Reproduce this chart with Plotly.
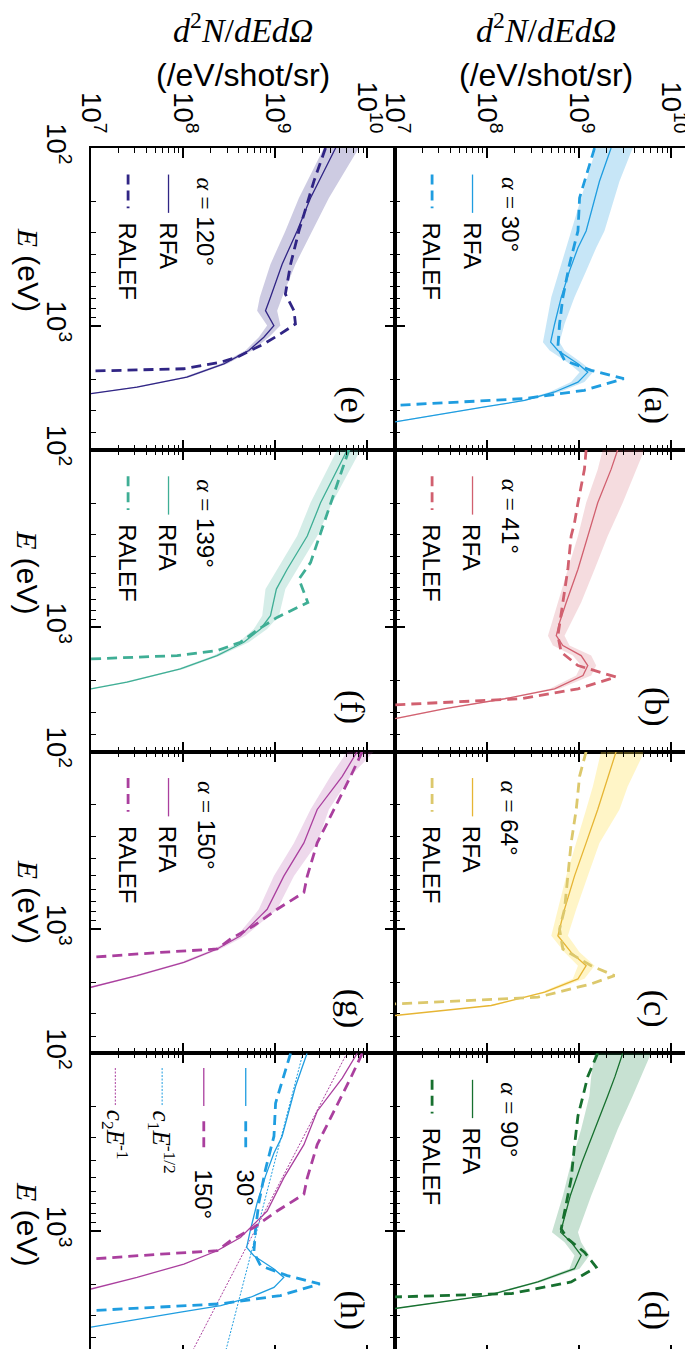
import math
import plotly.graph_objects as go
from plotly.subplots import make_subplots

# ---------------- data (E in eV, spectra in /eV/shot/sr) ----------------
# (a) alpha = 30 deg
E_a_rfa = [100, 154, 293, 364, 492, 693, 979, 1239, 1380, 1641, 1828, 2080, 2365, 2636, 2871, 3126, 3483]
rfa_a = [2.22e9, 1.66e9, 1.19e9, 9.7e8, 7.85e8, 6.38e8, 5.41e8, 4.90e8, 5.87e8, 9.7e8, 1.24e9, 9.7e8, 5.41e8, 2.56e8, 9.4e7, 3.5e7, 1.0e7]
lo_a = [1.53e9, 1.19e9, 8.18e8, 7.23e8, 6.12e8, 4.98e8, 4.40e8, 4.04e8, 4.78e8, 7.85e8, 1.01e9, 8.18e8, 4.78e8, 2.36e8, 8.7e7, 3.2e7, 9.1e6]
hi_a = [3.81e9, 2.74e9, 1.88e9, 1.53e9, 1.19e9, 8.89e8, 6.93e8, 6.12e8, 6.93e8, 1.10e9, 1.41e9, 1.14e9, 6.12e8, 2.78e8, 1.03e8, 3.8e7, 1.1e7]
E_a_ralef = [100, 154, 191, 293, 451, 693, 979, 1321, 1571, 1786, 1990, 2313, 2577, 2812]
ralef_a = [1.47e9, 1.14e9, 1.01e9, 9.7e8, 7.85e8, 6.65e8, 6.12e8, 5.87e8, 6.93e8, 1.35e9, 3.05e9, 1.14e9, 2.56e8, 1.0e7]

# (b) alpha = 41 deg
E_b_rfa = [100, 129, 199, 306, 471, 724, 938, 1114, 1267, 1442, 1641, 1867, 2218, 2523, 2871, 3266]
rfa_b = [2.62e9, 2.22e9, 1.59e9, 1.24e9, 9.7e8, 7.23e8, 6.12e8, 5.64e8, 6.65e8, 1.05e9, 1.24e9, 1.10e9, 5.41e8, 1.55e8, 3.5e7, 1.0e7]
lo_b = [1.80e9, 1.59e9, 1.19e9, 9.7e8, 7.53e8, 5.87e8, 4.98e8, 4.58e8, 5.19e8, 8.53e8, 1.05e9, 9.29e8, 4.78e8, 1.43e8, 3.2e7, 9.2e6]
hi_b = [5.11e9, 4.14e9, 2.97e9, 2.04e9, 1.47e9, 1.05e9, 8.18e8, 6.93e8, 7.85e8, 1.35e9, 1.53e9, 1.35e9, 6.12e8, 1.69e8, 3.8e7, 1.09e7]
E_b_ralef = [100, 129, 199, 258, 306, 471, 724, 1114, 1380, 1641, 1905, 2218, 2523, 2729]
ralef_b = [1.19e9, 1.14e9, 9.7e8, 8.89e8, 8.18e8, 7.53e8, 6.65e8, 5.87e8, 6.38e8, 9.7e8, 2.52e9, 9.7e8, 2.36e8, 1.0e7]

# (c) alpha = 64 deg
E_c_rfa = [100, 157, 212, 327, 503, 773, 1090, 1352, 1607, 1906, 2265, 2692, 3064]
rfa_c = [2.52e9, 1.91e9, 1.59e9, 1.19e9, 8.89e8, 6.93e8, 5.87e8, 8.18e8, 1.19e9, 9.7e8, 4.22e8, 1.11e8, 1.0e7]
lo_c = [1.73e9, 1.41e9, 1.19e9, 9.29e8, 7.23e8, 5.87e8, 4.98e8, 6.93e8, 9.7e8, 8.53e8, 3.87e8, 1.03e8, 9.2e6]
hi_c = [5.11e9, 3.37e9, 2.74e9, 1.66e9, 1.24e9, 9.29e8, 7.53e8, 1.01e9, 1.47e9, 1.14e9, 4.58e8, 1.21e8, 1.09e7]
E_c_ralef = [100, 138, 212, 327, 503, 773, 1000, 1295, 1607, 1828, 2034, 2218, 2418, 2636]
ralef_c = [1.19e9, 1.01e9, 9.29e8, 8.18e8, 7.53e8, 6.93e8, 6.12e8, 6.65e8, 1.35e9, 2.42e9, 1.35e9, 6.65e8, 3.56e8, 1.0e7]

# (d) alpha = 90 deg
E_d_rfa = [100, 135, 174, 268, 412, 634, 1017, 1158, 1375, 1633, 1940, 2305, 2737]
rfa_d = [2.97e9, 2.45e9, 2.04e9, 1.49e9, 1.07e9, 8.0e8, 6.28e8, 8.18e8, 1.05e9, 8.89e8, 3.56e8, 1.03e8, 1.0e7]
lo_d = [1.47e9, 1.35e9, 1.29e9, 1.05e9, 8.18e8, 6.65e8, 5.06e8, 6.93e8, 8.89e8, 7.85e8, 3.28e8, 9.4e7, 9.1e6]
hi_d = [6.03e9, 4.69e9, 3.81e9, 2.62e9, 1.88e9, 1.35e9, 9.7e8, 1.05e9, 1.29e9, 1.01e9, 3.87e8, 1.11e8, 1.1e7]
E_d_ralef = [100, 135, 174, 225, 332, 511, 785, 975, 1110, 1318, 1600, 1940, 2254, 2355]
ralef_d = [1.59e9, 1.24e9, 1.10e9, 9.7e8, 8.89e8, 8.18e8, 6.93e8, 6.38e8, 7.53e8, 1.14e9, 1.53e9, 8.18e8, 1.84e8, 1.0e7]

# (e) alpha = 120 deg
E_e_rfa = [100, 124, 191, 293, 451, 693, 824, 1000, 1162, 1380, 1641, 1950, 2218, 2415]
rfa_e = [4.53e9, 3.67e9, 2.42e9, 1.73e9, 1.19e9, 8.89e8, 7.85e8, 9.68e8, 7.53e8, 5.18e8, 2.77e8, 1.10e8, 3.16e7, 1.0e7]
lo_e = [3.38e9, 2.74e9, 1.81e9, 1.29e9, 8.89e8, 6.81e8, 6.37e8, 8.18e8, 6.64e8, 4.76e8, 2.55e8, 1.02e8, 2.91e7, 9.1e6]
hi_e = [8.11e9, 6.32e9, 3.83e9, 2.52e9, 1.66e9, 1.19e9, 1.05e9, 1.14e9, 8.53e8, 5.62e8, 3.01e8, 1.20e8, 3.44e7, 1.07e7]
E_e_ralef = [100, 154, 237, 293, 451, 664, 824, 979, 1114, 1268, 1506, 1607, 1750, 1803]
ralef_e = [3.52e9, 2.63e9, 2.05e9, 1.81e9, 1.47e9, 1.29e9, 1.60e9, 1.66e9, 1.14e9, 7.53e8, 3.86e8, 2.55e8, 1.02e8, 1.0e7]

# (f) alpha = 139 deg
E_f_rfa = [100, 129, 199, 306, 471, 609, 860, 1021, 1213, 1442, 1714, 2034, 2218]
rfa_f = [6.07e9, 4.72e9, 3.11e9, 2.23e9, 1.35e9, 1.03e9, 8.89e8, 6.93e8, 4.56e8, 2.34e8, 9.35e7, 2.46e7, 1.0e7]
lo_f = [4.72e9, 3.67e9, 2.42e9, 1.73e9, 1.05e9, 7.85e8, 7.23e8, 5.86e8, 4.03e8, 2.15e8, 8.61e7, 2.26e7, 9.1e6]
hi_f = [8.47e9, 6.59e9, 4.17e9, 2.86e9, 1.73e9, 1.29e9, 1.10e9, 8.18e8, 5.18e8, 2.55e8, 1.02e8, 2.68e7, 1.07e7]
E_f_ralef = [100, 129, 199, 306, 432, 535, 724, 879, 1021, 1213, 1352, 1442, 1506]
ralef_f = [6.32e9, 5.35e9, 3.99e9, 2.99e9, 2.42e9, 1.81e9, 2.26e9, 1.05e9, 6.64e8, 4.20e8, 2.34e8, 8.61e7, 1.0e7]

# (g) alpha = 150 deg
E_g_rfa = [100, 138, 212, 327, 503, 773, 842, 1090, 1294, 1538, 1828, 2125]
rfa_g = [7.78e9, 5.35e9, 2.86e9, 2.05e9, 1.24e9, 8.18e8, 6.93e8, 4.20e8, 2.34e8, 1.02e8, 3.16e7, 1.0e7]
lo_g = [6.07e9, 3.99e9, 2.42e9, 1.60e9, 9.68e8, 6.64e8, 5.86e8, 3.86e8, 2.15e8, 9.35e7, 2.91e7, 9.1e6]
hi_g = [1.18e10, 6.59e9, 3.83e9, 2.86e9, 1.60e9, 1.05e9, 8.53e8, 4.76e8, 2.55e8, 1.10e8, 3.44e7, 1.07e7]
E_g_ralef = [100, 138, 212, 327, 503, 622, 773, 957, 1137, 1294, 1352, 1442]
ralef_g = [8.83e9, 6.59e9, 4.35e9, 2.86e9, 2.23e9, 2.05e9, 1.05e9, 5.86e8, 3.27e8, 2.34e8, 5.68e7, 1.0e7]

# (h) power-law guides  c1*E^-1/2 and c2*E^-1
c1 = 2.0e10
c2 = 6.0e11
E_fit = [100, 5000]

# axis ranges and minor tick positions
E_RANGE = [100, 5000]
V_RANGE = [1e7, 2e10]
E_MINOR = [200, 300, 400, 500, 600, 700, 800, 900, 2000, 3000, 4000]
V_MINOR = [2e7, 3e7, 4e7, 5e7, 6e7, 7e7, 8e7, 9e7,
           2e8, 3e8, 4e8, 5e8, 6e8, 7e8, 8e8, 9e8,
           2e9, 3e9, 4e9, 5e9, 6e9, 7e9, 8e9, 9e9]

# ---------------- styling ----------------
SANS = "Liberation Sans"
SERIF = "Liberation Serif"

BLUE = "#1f9de0"
ROSE = "#d1606f"
GOLD = "#e6b534"
SAND = "#dcc86c"
GREEN = "#17702f"
INDIGO = "#302585"
TEAL = "#3fae95"
PURPLE = "#aa3f9e"

panels = [
    dict(tag="(a)", row=1, col=2, ang="30°", E_rfa=E_a_rfa, rfa=rfa_a, lo=lo_a, hi=hi_a,
         E_ralef=E_a_ralef, ralef=ralef_a, c_line=BLUE, c_dash=BLUE, fill="rgba(31,157,224,0.25)"),
    dict(tag="(b)", row=2, col=2, ang="41°", E_rfa=E_b_rfa, rfa=rfa_b, lo=lo_b, hi=hi_b,
         E_ralef=E_b_ralef, ralef=ralef_b, c_line=ROSE, c_dash=ROSE, fill="rgba(209,96,111,0.22)"),
    dict(tag="(c)", row=3, col=2, ang="64°", E_rfa=E_c_rfa, rfa=rfa_c, lo=lo_c, hi=hi_c,
         E_ralef=E_c_ralef, ralef=ralef_c, c_line=GOLD, c_dash=SAND, fill="rgba(255,222,70,0.30)"),
    dict(tag="(d)", row=4, col=2, ang="90°", E_rfa=E_d_rfa, rfa=rfa_d, lo=lo_d, hi=hi_d,
         E_ralef=E_d_ralef, ralef=ralef_d, c_line=GREEN, c_dash=GREEN, fill="rgba(40,140,80,0.26)"),
    dict(tag="(e)", row=1, col=1, ang="120°", E_rfa=E_e_rfa, rfa=rfa_e, lo=lo_e, hi=hi_e,
         E_ralef=E_e_ralef, ralef=ralef_e, c_line=INDIGO, c_dash=INDIGO, fill="rgba(48,37,133,0.24)"),
    dict(tag="(f)", row=2, col=1, ang="139°", E_rfa=E_f_rfa, rfa=rfa_f, lo=lo_f, hi=hi_f,
         E_ralef=E_f_ralef, ralef=ralef_f, c_line=TEAL, c_dash=TEAL, fill="rgba(63,174,149,0.22)"),
    dict(tag="(g)", row=3, col=1, ang="150°", E_rfa=E_g_rfa, rfa=rfa_g, lo=lo_g, hi=hi_g,
         E_ralef=E_g_ralef, ralef=ralef_g, c_line=PURPLE, c_dash=PURPLE, fill="rgba(170,63,158,0.20)"),
]

W, H = 693, 1349
ML, MR, MT, MB = 83, 1, 140, 0
DASH = "10px,6px"
LW_RFA = 1.3
LW_RALEF = 2.8

fig = make_subplots(rows=4, cols=2, horizontal_spacing=0, vertical_spacing=0)


def refs(row, col):
    k = (row - 1) * 2 + col
    s = "" if k == 1 else str(k)
    return "x" + s, "y" + s


annotations = []
shapes = []


def add_spectrum(row, col, E, v, color, dash, width):
    fig.add_trace(go.Scatter(x=v, y=E, mode="lines",
                             line=dict(color=color, width=width, dash=dash),
                             hoverinfo="skip", showlegend=False), row=row, col=col)


def add_band(row, col, E, lo, hi, fill):
    fig.add_trace(go.Scatter(x=list(lo) + list(hi)[::-1], y=list(E) + list(E)[::-1],
                             mode="lines", fill="toself", fillcolor=fill,
                             line=dict(width=0), hoverinfo="skip", showlegend=False),
                  row=row, col=col)


def rot_text(xr, yr, x, y, text, size, family=SANS, yanchor="top", xanchor="center"):
    annotations.append(dict(xref=xr, yref=yr, x=x, y=y, text=text, showarrow=False,
                            textangle=90, xanchor=xanchor, yanchor=yanchor,
                            font=dict(family=family, size=size, color="black")))


def sample(xr, yr, x, y0, y1, color, width, dash="solid"):
    shapes.append(dict(type="line", xref=xr, yref=yr, x0=x, x1=x, y0=y0, y1=y1,
                       line=dict(color=color, width=width, dash=dash)))


for p in panels:
    r, c = p["row"], p["col"]
    xn, yn = refs(r, c)
    xd, yd = xn + " domain", yn + " domain"
    add_band(r, c, p["E_rfa"], p["lo"], p["hi"], p["fill"])
    add_spectrum(r, c, p["E_rfa"], p["rfa"], p["c_line"], "solid", LW_RFA)
    add_spectrum(r, c, p["E_ralef"], p["ralef"], p["c_dash"], DASH, LW_RALEF)
    # legend (rotated)
    rot_text(xd, yd, 0.378, 0.909,
             '<span style="font-family:Liberation Serif"><i>α</i> =</span> ' + p["ang"], 24)
    sample(xd, yd, 0.255, 0.912, 0.785, p["c_line"], LW_RFA)
    sample(xd, yd, 0.122, 0.912, 0.800, p["c_dash"], LW_RALEF, DASH)
    rot_text(xd, yd, 0.252, 0.760, "RFA", 24)
    rot_text(xd, yd, 0.120, 0.760, "RALEF", 24)
    rot_text(xd, yd, 0.858, 0.148, p["tag"], 34, family=SERIF, yanchor="middle")

# panel (h): comparison of 30 and 150 degrees with power laws
rh, ch = 4, 1
xh, yh = refs(rh, ch)
xhd, yhd = xh + " domain", yh + " domain"
fit1 = [c1 * e ** -0.5 for e in E_fit]
fit2 = [c2 / e for e in E_fit]
add_spectrum(rh, ch, E_fit, fit1, BLUE, "2px,1.5px", 1.0)
add_spectrum(rh, ch, E_fit, fit2, PURPLE, "2px,1.5px", 1.0)
add_spectrum(rh, ch, E_a_rfa, rfa_a, BLUE, "solid", LW_RFA)
add_spectrum(rh, ch, E_a_ralef, ralef_a, BLUE, DASH, LW_RALEF)
add_spectrum(rh, ch, E_g_rfa, rfa_g, PURPLE, "solid", LW_RFA)
add_spectrum(rh, ch, E_g_ralef, ralef_g, PURPLE, DASH, LW_RALEF)

for xpos, col_, lab in [(0.509, BLUE, "30°"), (0.371, PURPLE, "150°")]:
    sample(xhd, yhd, xpos, 0.951, 0.825, col_, LW_RFA)
    sample(xhd, yhd, xpos, 0.775, 0.670, col_, LW_RALEF, DASH)
    rot_text(xhd, yhd, xpos, 0.622, lab, 24)
for xpos, col_, lab in [(0.234, BLUE, "<i>c</i><sub>1</sub><i>E</i><sup>-1/2</sup>"),
                        (0.080, PURPLE, "<i>c</i><sub>2</sub><i>E</i><sup>-1</sup>")]:
    sample(xhd, yhd, xpos, 0.951, 0.825, col_, 1.0, "2px,1.5px")
    rot_text(xhd, yhd, xpos, 0.818, lab, 25, family=SERIF)
rot_text(xhd, yhd, 0.858, 0.148, "(h)", 34, family=SERIF, yanchor="middle")

# ---------------- axes ----------------
V_LOG = [math.log10(V_RANGE[0]), math.log10(V_RANGE[1])]
E_LOG = [math.log10(E_RANGE[1]), math.log10(E_RANGE[0])]

common = dict(type="log", showline=True, linewidth=2, linecolor="black", mirror="ticks",
              ticks="inside", ticklen=10, tickwidth=1.6, tickcolor="black",
              dtick=1, exponentformat="power", showgrid=False, zeroline=False,
              tickangle=90, ticklabeloverflow="allow",
              tickfont=dict(family=SANS, size=22, color="black"))

minor_common = dict(type="log", showline=True, linewidth=2, linecolor="black", mirror="ticks",
                    ticks="inside", ticklen=5, tickwidth=1.3, tickcolor="black",
                    tickmode="array", showticklabels=False, showgrid=False, zeroline=False)

extra_axes = {}
n = 9
for r in range(1, 5):
    for c in range(1, 3):
        fig.update_xaxes(common, row=r, col=c, range=V_LOG,
                         side="top", showticklabels=(r == 1), ticklabelstandoff=4)
        fig.update_yaxes(common, row=r, col=c, range=E_LOG,
                         showticklabels=(c == 1), ticklabelstandoff=10)
        xn, yn = refs(r, c)
        # overlay axes that carry only the minor ticks
        extra_axes["xaxis%d" % n] = dict(minor_common, overlaying=xn, anchor=yn,
                                         range=V_LOG, tickvals=V_MINOR, side="top")
        extra_axes["yaxis%d" % n] = dict(minor_common, overlaying=yn, anchor=xn,
                                         range=E_LOG, tickvals=E_MINOR)
        fig.add_trace(go.Scatter(x=[None], y=[None], xaxis="x%d" % n, yaxis=yn,
                                 mode="lines", showlegend=False, hoverinfo="skip"))
        fig.add_trace(go.Scatter(x=[None], y=[None], xaxis=xn, yaxis="y%d" % n,
                                 mode="lines", showlegend=False, hoverinfo="skip"))
        n += 1

fig.update_layout(**extra_axes)

# axis titles (rotated figure layout)
PW = W - ML - MR
PH = H - MT - MB


def px(xp):
    return (xp - ML) / PW


def py(yp):
    return (H - MB - yp) / PH


for yp in [262, 565, 895, 1218]:
    annotations.append(dict(xref="paper", yref="paper", x=px(20), y=py(yp), showarrow=False,
                            textangle=90, xanchor="center", yanchor="middle",
                            text='<span style="font-family:Liberation Serif"><i>E</i></span> (eV)',
                            font=dict(family=SANS, size=30, color="black")))

for xc in [px(235), px(539)]:
    annotations.append(dict(xref="paper", yref="paper", x=xc, y=py(20), showarrow=False,
                            xanchor="center", yanchor="middle",
                            text="<i>d</i><sup>2</sup><i>N</i>/<i>dEd</i><i>Ω</i>",
                            font=dict(family=SERIF, size=34, color="black")))
    annotations.append(dict(xref="paper", yref="paper", x=xc, y=py(67), showarrow=False,
                            xanchor="center", yanchor="middle",
                            text="(/eV/shot/sr)",
                            font=dict(family=SANS, size=32, color="black")))

fig.update_layout(width=W, height=H, margin=dict(l=ML, r=MR, t=MT, b=MB, pad=0),
                  paper_bgcolor="white", plot_bgcolor="white", showlegend=False,
                  annotations=annotations, shapes=shapes)

fig.write_html("out.html")
